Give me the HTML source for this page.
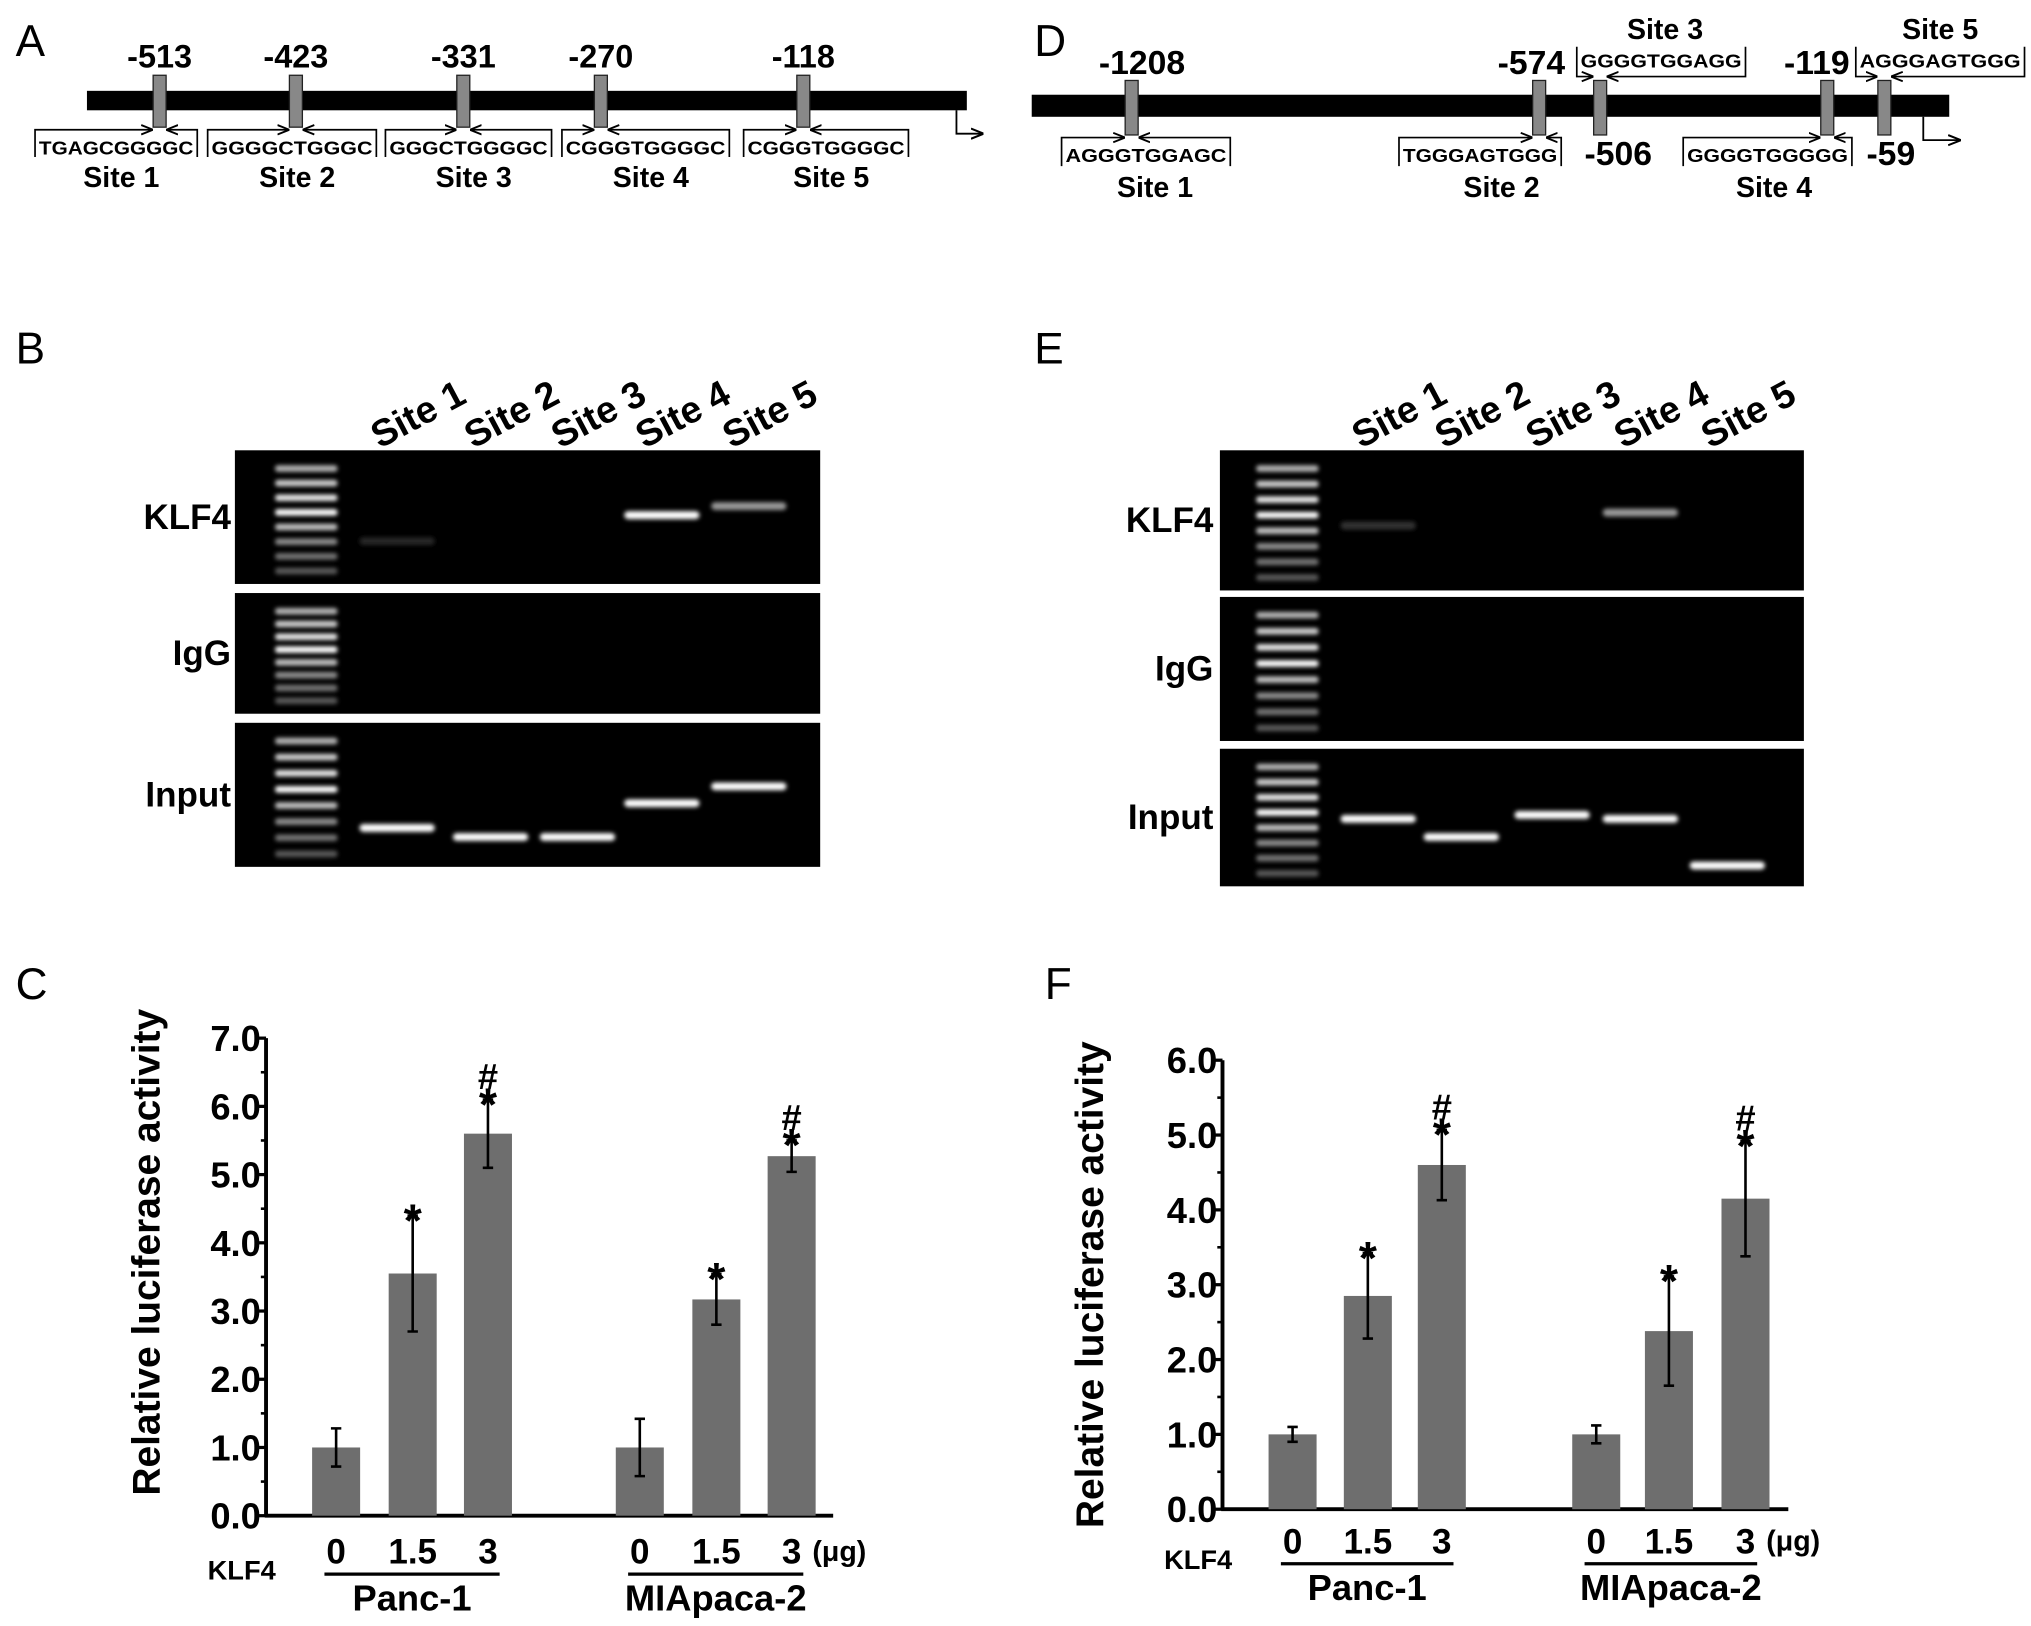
<!DOCTYPE html>
<html><head><meta charset="utf-8"><style>
html,body{margin:0;padding:0;background:#fff}
svg{display:block}
text{font-family:"Liberation Sans",Arial,sans-serif;fill:#000}
</style></head><body>
<svg id="fig" width="2031" height="1626" viewBox="0 0 1565 1253" preserveAspectRatio="none" xmlns="http://www.w3.org/2000/svg">
<defs>
<filter id="blur" x="-20%" y="-100%" width="140%" height="300%"><feGaussianBlur stdDeviation="1.6"/></filter>
<marker id="arr" viewBox="0 0 10 10" refX="9" refY="5" markerWidth="7" markerHeight="7" orient="auto-start-reverse"><path d="M0,1 L10,5 L0,9" fill="none" stroke="#000" stroke-width="1.6"/></marker>
</defs>
<g id="panelA"></g>
<g id="panelD"></g>
<g id="panelB"></g>
<g id="panelE"></g>
<g id="panelC"></g>
<g id="panelF"></g>
</svg>
<script>
// ---- Chart data ----
const groupsC = ["Panc-1", "MIApaca-2"];
const dosesC = ["0", "1.5", "3"];
const valuesC = [1.0, 3.55, 5.6, 1.0, 3.17, 5.27];
const errorsC = [0.28, 0.85, 0.5, 0.42, 0.37, 0.23];
const marksC = ["", "*", "#*", "", "*", "#*"];
const ticksC = ["0.0","1.0","2.0","3.0","4.0","5.0","6.0","7.0"];

const groupsF = ["Panc-1", "MIApaca-2"];
const dosesF = ["0", "1.5", "3"];
const valuesF = [1.0, 2.85, 4.6, 1.0, 2.38, 4.15];
const errorsF = [0.1, 0.57, 0.47, 0.12, 0.73, 0.77];
const marksF = ["", "*", "#*", "", "*", "#*"];
const ticksF = ["0.0","1.0","2.0","3.0","4.0","5.0","6.0"];

const NS = "http://www.w3.org/2000/svg";
function mk(parent, tag, attrs, txt) {
  const e = document.createElementNS(NS, tag);
  if (tag === 'text' && !('font-weight' in attrs)) e.setAttribute('font-weight','bold');
  for (const k in attrs) e.setAttribute(k, attrs[k]);
  if (txt !== undefined) e.textContent = txt;
  parent.appendChild(e);
  return e;
}

// ---- Promoter map A ----
(function(){
  const g = document.getElementById('panelA');
  let t = mk(g,'text',{x:12,y:43,'font-size':34,'font-weight':'normal'},'A');
  
  
  let bar = mk(g,'rect',{x:67,y:70,width:678,height:15,fill:'#000'});
  
  
  const pos = [123,228,357,463,619], lbl=["-513","-423","-331","-270","-118"];
  const seq = ["TGAGCGGGGC","GGGGCTGGGC","GGGCTGGGGC","CGGGTGGGGC","CGGGTGGGGC"];
  const boxes = [[27,152],[160,290],[297,425],[433,562],[573,700]];
  for (let i=0;i<5;i++){
    let n = mk(g,'text',{x:pos[i],y:52,'font-size':25,'text-anchor':'middle'},lbl[i]);
    
    
    let r = mk(g,'rect',{x:pos[i]-5,y:58,width:10,height:40,fill:'#888',stroke:'#222','stroke-width':1});
    
    
    const [a,b] = boxes[i];
    mk(g,'path',{d:`M${a},121 V100 H${pos[i]-6}`,fill:'none',stroke:'#000','stroke-width':1.3,'marker-end':'url(#arr)'});
    mk(g,'path',{d:`M${b},121 V100 H${pos[i]+6}`,fill:'none',stroke:'#000','stroke-width':1.3,'marker-end':'url(#arr)'});
    let s = mk(g,'text',{x:(a+b)/2,y:119,'font-size':14.5,'text-anchor':'middle',textLength:b-a-6,lengthAdjust:'spacingAndGlyphs'},seq[i]);
    
    
    let sl = mk(g,'text',{x:(a+b)/2+4,y:144,'font-size':22,'text-anchor':'middle'},'Site '+(i+1));
    
    
  }
  mk(g,'path',{d:'M737,85 V103 H757',fill:'none',stroke:'#000','stroke-width':1.4,'marker-end':'url(#arr)'});
})();

// ---- Promoter map D ----
(function(){
  const g = document.getElementById('panelD');
  let t = mk(g,'text',{x:797,y:43,'font-size':34,'font-weight':'normal'},'D');
  
  
  let bar = mk(g,'rect',{x:795,y:73,width:707,height:17,fill:'#000'});
  
  
  const pos=[872,1186,1233,1408,1452];
  pos.forEach(p=>{
    let r = mk(g,'rect',{x:p-5,y:62,width:10,height:42,fill:'#888',stroke:'#222','stroke-width':1});
    
    
  });
  const nums=[["-1208",880,57],["-574",1180,57],["-119",1400,57],["-506",1247,127],["-59",1457,127]];
  nums.forEach(n=>{
    let e = mk(g,'text',{x:n[1],y:n[2],'font-size':26,'text-anchor':'middle'},n[0]);
    
    
  });
  const bot=[[818,948,872,"AGGGTGGAGC","Site 1",890],[1078,1203,1186,"TGGGAGTGGG","Site 2",1157],[1297,1427,1408,"GGGGTGGGGG","Site 4",1367]];
  bot.forEach(b=>{
    mk(g,'path',{d:`M${b[0]},128 V106 H${b[2]-6}`,fill:'none',stroke:'#000','stroke-width':1.3,'marker-end':'url(#arr)'});
    mk(g,'path',{d:`M${b[1]},128 V106 H${b[2]+6}`,fill:'none',stroke:'#000','stroke-width':1.3,'marker-end':'url(#arr)'});
    let s = mk(g,'text',{x:(b[0]+b[1])/2,y:125,'font-size':14.5,'text-anchor':'middle',textLength:b[1]-b[0]-6,lengthAdjust:'spacingAndGlyphs'},b[3]);
    
    
    let l = mk(g,'text',{x:b[5],y:152,'font-size':22,'text-anchor':'middle'},b[4]);
    
    
  });
  const top=[[1215,1345,1233,"GGGGTGGAGG","Site 3",1283],[1430,1560,1452,"AGGGAGTGGG","Site 5",1495]];
  top.forEach(b=>{
    mk(g,'path',{d:`M${b[0]},36 V59 H${b[2]-6}`,fill:'none',stroke:'#000','stroke-width':1.3,'marker-end':'url(#arr)'});
    mk(g,'path',{d:`M${b[1]},36 V59 H${b[2]+6}`,fill:'none',stroke:'#000','stroke-width':1.3,'marker-end':'url(#arr)'});
    let s = mk(g,'text',{x:(b[0]+b[1])/2,y:52,'font-size':14.5,'text-anchor':'middle',textLength:b[1]-b[0]-6,lengthAdjust:'spacingAndGlyphs'},b[3]);
    
    
    let l = mk(g,'text',{x:b[5],y:30,'font-size':22,'text-anchor':'middle'},b[4]);
    
    
  });
  mk(g,'path',{d:'M1482,90 V108 H1510',fill:'none',stroke:'#000','stroke-width':1.4,'marker-end':'url(#arr)'});
})();

// ---- Gels ----
function gel(id, letter, lx, ly, gx, gw, rows, laneX, ladderX, bands, rowLabelX){
  const g = document.getElementById(id);
  let t = mk(g,'text',{x:lx,y:ly,'font-size':34,'font-weight':'normal'},letter);
  
  
  laneX.forEach((x,i)=>{
    const cx=x+16, cy=rows[0][0]-28;
    let e = mk(g,'text',{x:cx,y:cy+10,'font-size':29,'text-anchor':'middle',transform:`rotate(-28 ${cx} ${cy})`},'Site '+(i+1));
    
    
  });
  const names=["KLF4","IgG","Input"];
  rows.forEach((r,ri)=>{
    let rc = mk(g,'rect',{x:gx,y:r[0],width:gw,height:r[1]-r[0],fill:'#000'});
    
    
    let l = mk(g,'text',{x:rowLabelX,y:(r[0]+r[1])/2+9,'font-size':27,'text-anchor':'end'},names[ri]);
    
    
    const n=8;
    for(let k=0;k<n;k++){
      const y=r[0]+14+k*((r[1]-r[0]-24)/(n-1));
      const br=[0.7,0.8,0.9,1,0.75,0.55,0.45,0.35][k];
      const c=Math.round(255*br);
      mk(g,'rect',{x:ladderX,y:y-2.5,width:48,height:5,rx:2,fill:`rgb(${c},${c},${c})`,filter:'url(#blur)'});
    }
  });
  bands.forEach(b=>{
    const c=Math.round(255*b[3]);
    let e = mk(g,'rect',{x:laneX[b[1]]-29,y:b[2]-3,width:58,height:6,rx:3,fill:`rgb(${c},${c},${c})`,filter:'url(#blur)'});
    
    
  });
}
gel('panelB','B',12,280,181,451,[[347,450],[457,550],[557,668]],[306,378,445,510,577],212,
  [[0,0,417,0.15],[0,3,397,1],[0,4,390,0.6],[2,0,638,1],[2,1,645,1],[2,2,645,1],[2,3,619,1],[2,4,606,1]],178);
gel('panelE','E',797,280,940,450,[[347,455],[460,571],[577,683]],[1062,1126,1196,1264,1331],968,
  [[0,0,405,0.2],[0,3,395,0.6],[2,0,631,1],[2,1,645,1],[2,2,628,1],[2,3,631,1],[2,4,667,1]],935);

// ---- Bar charts ----
function barChart(id, letter, lx, ly, cfg, groups, doses, values, errors, marks, ticks){
  const g = document.getElementById(id);
  let t = mk(g,'text',{x:lx,y:ly,'font-size':34,'font-weight':'normal'},letter);
  
  
  const ymax = parseFloat(ticks[ticks.length-1]);
  const Y = v => cfg.y0 - (v/ymax)*(cfg.y0-cfg.y1);
  const X = i => cfg.xs[i];
  let ya = mk(g,'line',{x1:cfg.x0,y1:cfg.y0+1,x2:cfg.x0,y2:cfg.y1,stroke:'#000','stroke-width':3});
  
  
  let xa = mk(g,'line',{x1:cfg.x0-1,y1:cfg.y0,x2:cfg.xend,y2:cfg.y0,stroke:'#000','stroke-width':3});
  
  
  ticks.forEach((tk,i)=>{
    const v=parseFloat(tk), y=Y(v);
    mk(g,'line',{x1:cfg.x0-7,y1:y,x2:cfg.x0,y2:y,stroke:'#000','stroke-width':2.5});
    if(i<ticks.length-1) mk(g,'line',{x1:cfg.x0-4,y1:Y(v+0.5),x2:cfg.x0,y2:Y(v+0.5),stroke:'#000','stroke-width':2});
    let l = mk(g,'text',{x:cfg.x0-4,y:y+10,'font-size':28,'text-anchor':'end'},tk);
    
    
  });
  let yt = mk(g,'text',{x:cfg.ytx,y:cfg.yty,'font-size':30,'text-anchor':'middle',transform:`rotate(-90 ${cfg.ytx} ${cfg.yty})`},'Relative luciferase activity');
  
  
  values.forEach((v,i)=>{
    const x=X(i), w=cfg.bw;
    let b = mk(g,'rect',{x:x-w/2,y:Y(v),width:w,height:cfg.y0-Y(v),fill:'#6e6e6e'});
    
    
    const hi=Y(v+errors[i]), lo=Y(v-errors[i]);
    let e = mk(g,'path',{d:`M${x},${hi} V${lo} M${x-4},${hi} H${x+4} M${x-4},${lo} H${x+4}`,stroke:'#000','stroke-width':2,fill:'none'});
    
    
    const m=marks[i];
    if(m.includes('*')){
      let s = mk(g,'text',{x:x,y:hi+16,'font-size':36,'text-anchor':'middle'},'*');
      
      
    }
    if(m.includes('#')){
      let s = mk(g,'text',{x:x,y:hi-8,'font-size':28,'text-anchor':'middle'},'#');
      
      
    }
    let dl = mk(g,'text',{x:x,y:cfg.doseY,'font-size':27,'text-anchor':'middle'},doses[i%3]);
    
    
  });
  groups.forEach((gr,k)=>{
    const a=X(k*3)-9, b=X(k*3+2)+9;
    mk(g,'line',{x1:a,y1:cfg.doseY+8,x2:b,y2:cfg.doseY+8,stroke:'#000','stroke-width':2.5});
    let l = mk(g,'text',{x:(a+b)/2,y:cfg.doseY+36,'font-size':28,'text-anchor':'middle'},gr);
    
    
  });
  let k = mk(g,'text',{x:cfg.klfX,y:cfg.doseY+12,'font-size':21},'KLF4');
  
  
  let u = mk(g,'text',{x:X(5)+16,y:cfg.doseY-2,'font-size':22},'(μg)');
  
  
}
barChart('panelC','C',12,770,{x0:205,xend:642,y0:1168,y1:800,xs:[259,318,376,493,552,610],bw:37,ytx:123,yty:965,doseY:1205,klfX:160},
  groupsC,dosesC,valuesC,errorsC,marksC,ticksC);
barChart('panelF','F',805,770,{x0:942,xend:1378,y0:1163,y1:817,xs:[996,1054,1111,1230,1286,1345],bw:37,ytx:850,yty:990,doseY:1197,klfX:897},
  groupsF,dosesF,valuesF,errorsF,marksF,ticksF);
</script>
</body></html>
